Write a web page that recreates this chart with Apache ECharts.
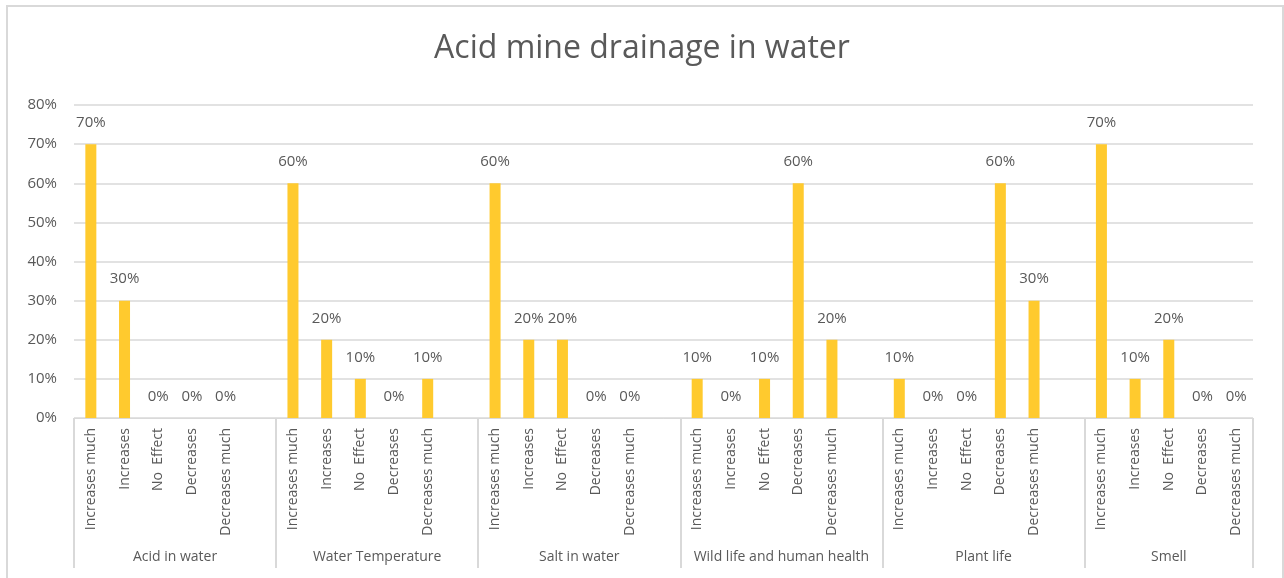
<!DOCTYPE html>
<html>
<head>
<meta charset="utf-8">
<script src="https://cdn.jsdelivr.net/npm/echarts@6/dist/echarts.min.js"></script>
<style>
  html, body { margin: 0; padding: 0; background: #fff; }
  #main { position: absolute; left: 0; top: 0; width: 1284px; height: 578px; }
  #frame { position: absolute; left: 6px; top: 5px; width: 1274px; height: 600px; border: 2px solid #D9D9D9; pointer-events: none; }
</style>
</head>
<body>
<div id="main"></div>
<div id="frame"></div>
<script>
// groups and levels of the two-row category axis
var groups = ['Acid in water', 'Water Temperature', 'Salt in water', 'Wild life and human health', 'Plant life', 'Smell'];
var levels = ['Increases much', 'Increases', 'No  Effect', 'Decreases', 'Decreases much'];

// percentages per group, in the order of levels
var acidInWater = [70, 30, 0, 0, 0];
var waterTemperature = [60, 20, 10, 0, 10];
var saltInWater = [60, 20, 20, 0, 0];
var wildLife = [10, 0, 10, 60, 20];
var plantLife = [10, 0, 0, 60, 30];
var smell = [70, 10, 20, 0, 0];

var yTicks = [0, 10, 20, 30, 40, 50, 60, 70, 80];

var groupValues = [acidInWater, waterTemperature, saltInWater, wildLife, plantLife, smell];

// flatten: each group gets its 5 levels, then an empty slot (not after the last group)
var categories = [];
var values = [];
var groupCenters = {};
groups.forEach(function (g, gi) {
	var start = categories.length;
	levels.forEach(function (l, li) {
		categories.push(l);
		values.push(groupValues[gi][li] / 100);
	});
	if (gi < groups.length - 1) {
		categories.push('');
		values.push(null);
	}
	groupCenters[((start + categories.length) / 2).toFixed(1)] = g;
});
var n = categories.length;

var font = 'Open Sans';
var grey = '#595959';
var lineGrey = '#D9D9D9';

var myChart = echarts.init(document.getElementById('main'));
var option = {
	animation: false,
	title: {
		text: 'Acid mine drainage in water',
		left: 'center',
		top: 28,
		textStyle: { fontFamily: font, fontSize: 32, fontWeight: 'normal', color: grey }
	},
	grid: { left: 74, right: 31, top: 105, bottom: 160 },
	xAxis: [{
		type: 'category',
		data: categories,
		axisLine: { lineStyle: { color: lineGrey, width: 1 } },
		axisTick: { show: false },
		axisLabel: {
			interval: 0, rotate: 90, margin: 10,
			fontFamily: font, fontSize: 14, color: grey
		}
	}, {
		// group names row
		type: 'value', min: 0, max: n, interval: 0.5,
		position: 'bottom',
		axisLine: { show: false },
		axisTick: { show: false },
		splitLine: { show: false },
		axisLabel: {
			margin: 132, fontFamily: font, fontSize: 14, color: grey,
			showMinLabel: true, showMaxLabel: true,
			formatter: function (v) { return groupCenters[v.toFixed(1)] || ''; }
		}
	}, {
		// group separators
		type: 'value', min: 0, max: n, interval: 6,
		position: 'bottom',
		axisLine: { show: false },
		axisLabel: { show: false },
		splitLine: { show: false },
		axisTick: { show: true, length: 150, lineStyle: { color: lineGrey, width: 2 } }
	}],
	yAxis: {
		type: 'value', min: 0, max: 0.8, interval: 0.1,
		axisLine: { show: false },
		axisTick: { show: false },
		splitLine: { lineStyle: { color: lineGrey, width: 1.5 } },
		axisLabel: {
			margin: 17, fontFamily: font, fontSize: 15, color: grey,
			formatter: function (v) {
				var p = Math.round(v * 100);
				return yTicks.indexOf(p) >= 0 ? p + '%' : '';
			}
		}
	},
	series: [{
		type: 'bar',
		xAxisIndex: 0,
		data: values,
		barWidth: 11,
		itemStyle: { color: '#FFCA2E' },
		label: {
			show: true, position: 'top', distance: 14,
			fontFamily: font, fontSize: 15, color: grey,
			formatter: function (p) { return Math.round(p.value * 100) + '%'; }
		}
	}]
};
myChart.setOption(option);
</script>
</body>
</html>
